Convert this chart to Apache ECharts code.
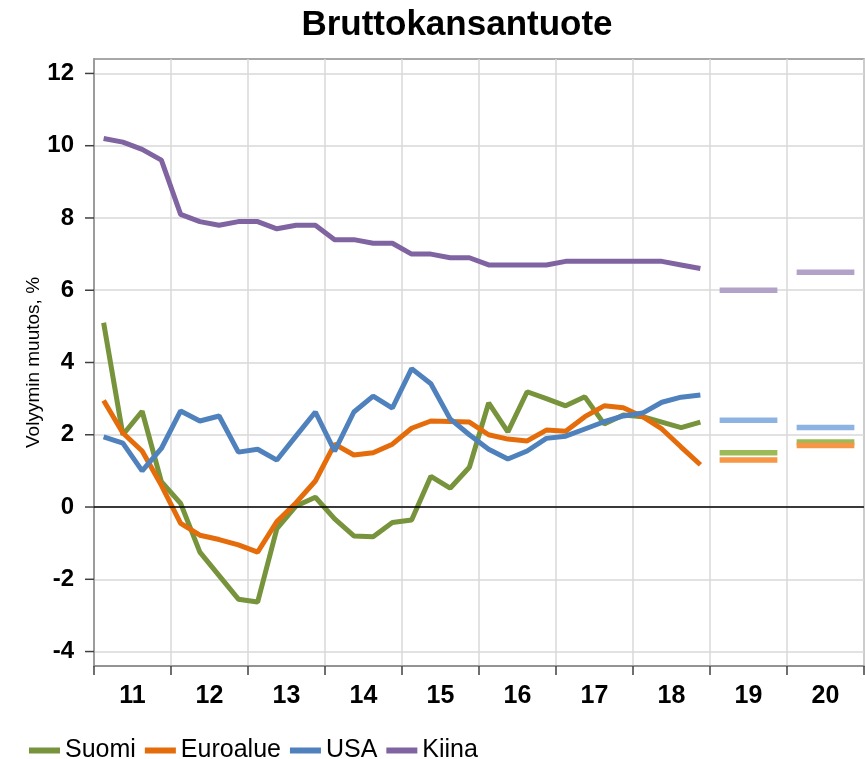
<!DOCTYPE html>
<html>
	<head>
		<meta charset="utf-8">
		<title>Bruttokansantuote</title>
		<script src="https://cdn.jsdelivr.net/npm/echarts@6/dist/echarts.min.js"></script>
		<style>
			html, body { margin: 0; padding: 0; background: #fff; }
			#chart { width: 865px; height: 759px; }
		</style>
	</head>
	<body>
		<div id="chart"></div>
		<script>
			// vuodet (akselin tekstit)
			var years = ['11', '12', '13', '14', '15', '16', '17', '18', '19', '20'];
			// neljännesvuosittaiset toteumat 2011Q1 - 2018Q4
			var suomi = [5.1, 2.0, 2.65, 0.7, 0.1, -1.25, -1.9, -2.55, -2.63, -0.6, 0.03, 0.27, -0.33, -0.8, -0.82, -0.43, -0.36, 0.85, 0.52, 1.1, 2.88, 2.08, 3.19, 3.0, 2.8, 3.05, 2.3, 2.55, 2.5, 2.35, 2.2, 2.35];
			var euroalue = [2.95, 2.05, 1.55, 0.6, -0.45, -0.78, -0.9, -1.05, -1.25, -0.4, 0.12, 0.72, 1.74, 1.44, 1.5, 1.74, 2.18, 2.38, 2.37, 2.35, 2.0, 1.88, 1.83, 2.13, 2.1, 2.5, 2.8, 2.75, 2.5, 2.16, 1.66, 1.17];
			var usa = [1.94, 1.77, 1.0, 1.62, 2.66, 2.38, 2.52, 1.52, 1.6, 1.3, 1.97, 2.63, 1.55, 2.63, 3.07, 2.74, 3.83, 3.41, 2.44, 2.0, 1.6, 1.33, 1.55, 1.9, 1.96, 2.16, 2.36, 2.52, 2.6, 2.9, 3.04, 3.1];
			var kiina = [10.2, 10.1, 9.9, 9.6, 8.1, 7.9, 7.8, 7.9, 7.9, 7.7, 7.8, 7.8, 7.4, 7.4, 7.3, 7.3, 7.0, 7.0, 6.9, 6.9, 6.7, 6.7, 6.7, 6.7, 6.8, 6.8, 6.8, 6.8, 6.8, 6.8, 6.7, 6.6];
			// ennusteet vuosille 19 ja 20
			var suomiEnnuste = [1.5, 1.8];
			var euroalueEnnuste = [1.3, 1.7];
			var usaEnnuste = [2.4, 2.2];
			var kiinaEnnuste = [6.0, 6.5];

			var font = 'Liberation Sans, Arial, sans-serif';

			// neljännekset kategorioiksi
			var quarters = [];
			for (var y = 0; y < years.length; y++) {
				for (var q = 1; q <= 4; q++) {
					quarters.push(years[y] + 'Q' + q);
				}
			}

			var maat = [
				{ name: 'Suomi', data: suomi, ennuste: suomiEnnuste, color: '#77933c', light: '#9bbb59' },
				{ name: 'Euroalue', data: euroalue, ennuste: euroalueEnnuste, color: '#e46c0a', light: '#f79646' },
				{ name: 'USA', data: usa, ennuste: usaEnnuste, color: '#4f81bd', light: '#8db3e2' },
				{ name: 'Kiina', data: kiina, ennuste: kiinaEnnuste, color: '#8064a2', light: '#b3a2c7' }
			];

			var series = [];
			maat.forEach(function (m, idx) {
				var s = {
					name: m.name,
					type: 'line',
					xAxisIndex: 0,
					data: m.data,
					symbol: 'none',
					lineStyle: { width: 5, color: m.color },
					itemStyle: { color: m.color },
					z: 3
				};
				if (idx === 0) {
					s.markLine = {
						silent: true,
						symbol: ['none', 'none'],
						label: { show: false },
						lineStyle: { color: '#000', width: 1.5, type: 'solid' },
						data: [{ yAxis: 0 }]
					};
				}
				series.push(s);
				// ennusteviivat, yksi sarja per vuosi
				for (var k = 0; k < m.ennuste.length; k++) {
					var d = [];
					for (var i = 0; i < quarters.length; i++) {
						var yi = Math.floor(i / 4);
						d.push(yi === 8 + k ? m.ennuste[k] : null);
					}
					series.push({
						name: m.name + ' ennuste ' + years[8 + k],
						type: 'line',
						xAxisIndex: 0,
						data: d,
						symbol: 'none',
						lineStyle: { width: 5.5, color: m.light, cap: 'butt' },
						itemStyle: { color: m.light },
						z: 2
					});
				}
			});

			// vaakaviivat vain parillisille arvoille (-4.4 alkaen 0.2 välein)
			var gridColors = [];
			for (var c = 0; c < 10; c++) {
				gridColors.push(c === 2 ? '#d9d9d9' : 'rgba(0,0,0,0)');
			}

			var chart = echarts.init(document.getElementById('chart'));
			chart.setOption({
				backgroundColor: '#fff',
				animation: false,
				title: {
					text: 'Bruttokansantuote',
					left: 452,
					textAlign: 'center',
					top: 3,
					textStyle: { fontFamily: font, fontSize: 35, fontWeight: 'bold', color: '#000' }
				},
				legend: {
					data: ['Suomi', 'Euroalue', 'USA', 'Kiina'],
					left: 24,
					top: 733,
					icon: 'rect',
					itemWidth: 31,
					itemHeight: 6,
					itemGap: 9,
					textStyle: { fontFamily: font, fontSize: 25, color: '#000' }
				},
				grid: {
					left: 94,
					right: 1,
					top: 59,
					bottom: 93,
					show: true,
					borderColor: '#8c8c8c',
					borderWidth: 1.5
				},
				xAxis: [
					{
						type: 'category',
						data: quarters,
						boundaryGap: true,
						axisLine: { show: false },
						axisTick: { show: false },
						axisLabel: { show: false },
						splitLine: { show: false }
					},
					{
						type: 'category',
						data: years,
						position: 'bottom',
						boundaryGap: true,
						axisLine: { show: true, lineStyle: { color: '#8c8c8c', width: 1.5 } },
						axisTick: { show: true, length: 9, lineStyle: { color: '#404040', width: 1.5 } },
						axisLabel: { margin: 18, fontFamily: font, fontSize: 25, fontWeight: 'bold', color: '#000' },
						splitLine: { show: true, lineStyle: { color: '#d9d9d9', width: 1.5 } }
					}
				],
				yAxis: {
					type: 'value',
					min: -4.4,
					max: 12.4,
					interval: 0.2,
					name: 'Volyymin muutos, %',
					nameLocation: 'middle',
					nameGap: 51,
					nameMoveOverlap: false,
					nameTextStyle: { fontFamily: font, fontSize: 19, color: '#000' },
					axisLine: { show: true, lineStyle: { color: '#8c8c8c', width: 1.5 } },
					axisTick: { show: false },
					splitLine: { show: true, lineStyle: { color: gridColors, width: 1.5 } },
					axisLabel: {
						margin: 0,
						formatter: function (v) {
							var r = Math.round(v);
							if (Math.abs(v - r) < 1e-6 && r % 2 === 0) {
								return '{n|' + r + '}{t|}';
							}
							return '';
						},
						rich: {
							n: { fontFamily: font, fontSize: 24, fontWeight: 'bold', color: '#000', padding: [0, 11, 0, 0] },
							t: { width: 9, height: 1.5, backgroundColor: '#404040' }
						}
					}
				},
				series: series
			});
		</script>
	</body>
</html>
